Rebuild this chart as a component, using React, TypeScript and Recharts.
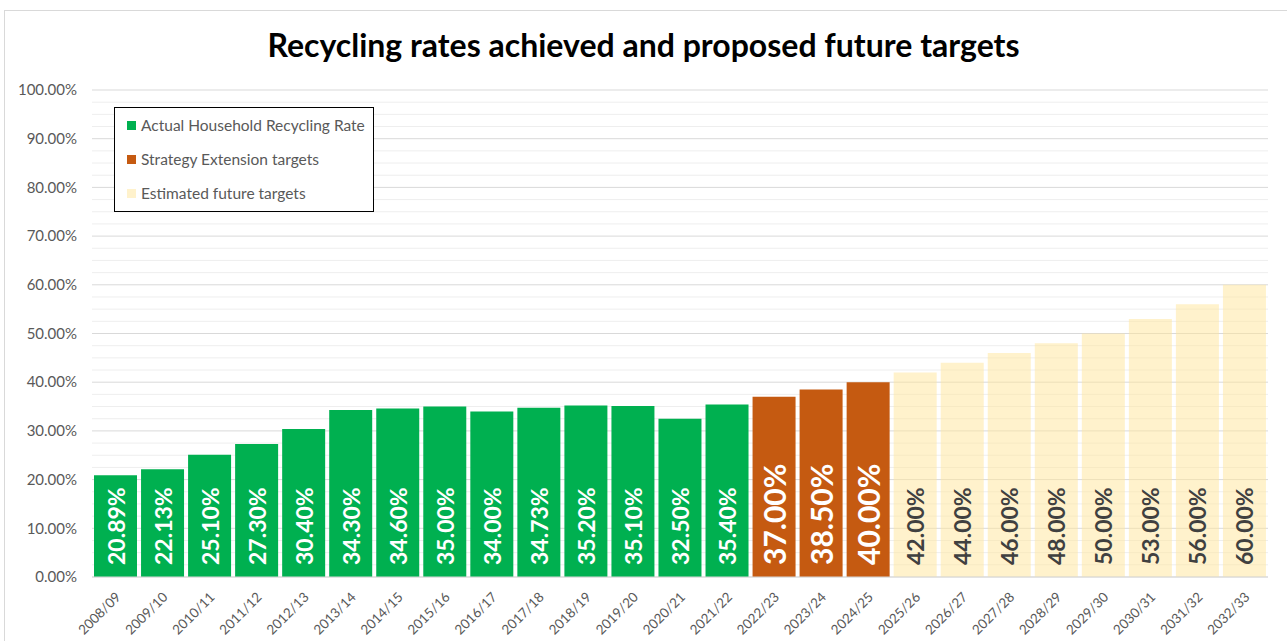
import React from 'react'
import { BarChart, Bar, XAxis, YAxis, CartesianGrid, LabelList } from 'recharts'

const years = [
  '2008/09', '2009/10', '2010/11', '2011/12', '2012/13', '2013/14', '2014/15', '2015/16',
  '2016/17', '2017/18', '2018/19', '2019/20', '2020/21', '2021/22', '2022/23', '2023/24',
  '2024/25', '2025/26', '2026/27', '2027/28', '2028/29', '2029/30', '2030/31', '2031/32', '2032/33',
]

const actualRates = [
  0.2089, 0.2213, 0.251, 0.273, 0.304, 0.343, 0.346, 0.35, 0.34, 0.3473, 0.352, 0.351, 0.325, 0.354,
  null, null, null, null, null, null, null, null, null, null, null,
]

const extensionTargets = [
  null, null, null, null, null, null, null, null, null, null, null, null, null, null,
  0.37, 0.385, 0.4, null, null, null, null, null, null, null, null,
]

const futureTargets = [
  null, null, null, null, null, null, null, null, null, null, null, null, null, null,
  null, null, null, 0.42, 0.44, 0.46, 0.48, 0.5, 0.53, 0.56, 0.6,
]

const yTicks = [
  0, 0.025, 0.05, 0.075, 0.1, 0.125, 0.15, 0.175, 0.2, 0.225, 0.25, 0.275, 0.3, 0.325, 0.35, 0.375,
  0.4, 0.425, 0.45, 0.475, 0.5, 0.525, 0.55, 0.575, 0.6, 0.625, 0.65, 0.675, 0.7, 0.725, 0.75, 0.775,
  0.8, 0.825, 0.85, 0.875, 0.9, 0.925, 0.95, 0.975, 1,
]

const series = [
  { key: 'actual', name: 'Actual Household Recycling Rate', color: '#00b050', opacity: 1, labelColor: '#ffffff', labelSize: 23 },
  { key: 'extension', name: 'Strategy Extension targets', color: '#c55a11', opacity: 1, labelColor: '#ffffff', labelSize: 30 },
  { key: 'future', name: 'Estimated future targets', color: '#ffe699', opacity: 0.5, labelColor: '#404040', labelSize: 23 },
]

const chartData = years.map((year, i) => ({
  year,
  actual: actualRates[i],
  extension: extensionTargets[i],
  future: futureTargets[i],
}))

const W = 1287
const H = 641
const TOP = 90
const BOTTOM = 64
const PLOT_H = H - TOP - BOTTOM
const FONT = 'Lato, "Noto Sans", sans-serif'

const pct = (v: number) => `${(v * 100).toFixed(2)}%`

// major line every 10%, faint minor line every 2.5%
function GridLine(props: any) {
  const { x1, x2, y1 } = props
  const step = PLOT_H / 40
  const idx = Math.round((TOP + PLOT_H - y1) / step)
  const major = idx % 4 === 0
  return <line x1={x1} x2={x2} y1={y1} y2={y1} stroke={major ? '#d9d9d9' : '#eeeeee'} strokeWidth={1} />
}

function YTick(props: any) {
  const { x, y, payload } = props
  const v = payload.value
  if (Math.round(v * 1000) % 100 !== 0) return null
  return (
    <text x={x} y={y} dy="0.35em" textAnchor="end" fill="#595959" fontSize={15} fontFamily={FONT}>
      {pct(v)}
    </text>
  )
}

function XTick(props: any) {
  const { x, y, payload } = props
  return (
    <text
      transform={`translate(${x + 6},${y + 21}) rotate(-45)`}
      textAnchor="end"
      fill="#595959"
      fontSize={13.5}
      fontFamily={FONT}
    >
      {payload.value}
    </text>
  )
}

const makeLabel = (color: string, size: number) => (props: any) => {
  const { x, y, width, height, value } = props
  if (value == null) return null
  const cx = x + width / 2
  const bottom = y + height
  return (
    <text
      transform={`translate(${cx},${bottom - 12}) rotate(-90)`}
      textAnchor="start"
      dominantBaseline="central"
      fill={color}
      fontSize={size}
      fontWeight="bold"
      fontFamily={FONT}
    >
      {pct(value)}
    </text>
  )
}

function LegendBox() {
  return (
    <div
      style={{
        position: 'absolute',
        left: 114,
        top: 107,
        border: '1.5px solid #000',
        background: '#fff',
        width: 260,
        height: 105,
        boxSizing: 'border-box',
        padding: '0 0 0 12px',
        fontFamily: FONT,
      }}
    >
      {series.map((s) => (
        <div key={s.key} style={{ display: 'flex', alignItems: 'center', height: 34 }}>
          <span style={{ display: 'inline-block', width: 9, height: 9, background: s.color, opacity: s.opacity, marginRight: 5 }} />
          <span style={{ fontSize: 15.5, color: '#595959' }}>{s.name}</span>
        </div>
      ))}
    </div>
  )
}

export default function App() {
  return (
    <div style={{ position: 'fixed', left: 0, top: 0, width: W, height: H, overflow: 'hidden', background: '#fff' }}>
      <div
        style={{
          position: 'absolute',
          left: 4,
          top: 10,
          width: W + 20,
          height: H + 20,
          border: '1px solid #d9d9d9',
        }}
      />
      <div
        style={{
          position: 'absolute',
          left: 0,
          top: 29,
          width: W,
          textAlign: 'center',
          fontFamily: FONT,
          fontWeight: 'bold',
          fontSize: 32,
          lineHeight: '32px',
          color: '#000',
        }}
      >
        Recycling rates achieved and proposed future targets
      </div>
      <div style={{ position: 'absolute', left: 0, top: 0 }}>
        <BarChart
          width={W}
          height={H}
          data={chartData}
          margin={{ top: TOP, right: 19, bottom: 0, left: 0 }}
          barCategoryGap={2}
        >
          <CartesianGrid vertical={false} horizontal={(p: any) => <GridLine key={p.key} {...p} />} />
          <XAxis
            dataKey="year"
            height={BOTTOM}
            interval={0}
            tickSize={0}
            tickMargin={0}
            axisLine={{ stroke: '#d9d9d9' }}
            tick={<XTick />}
          />
          <YAxis
            width={92}
            domain={[0, 1]}
            ticks={yTicks}
            interval={0}
            tickSize={0}
            tickMargin={15}
            axisLine={false}
            tick={<YTick />}
          />
          {series.map((s) => (
            <Bar
              key={s.key}
              dataKey={s.key}
              name={s.name}
              stackId="a"
              fill={s.color}
              fillOpacity={s.opacity}
              isAnimationActive={false}
            >
              <LabelList dataKey={s.key} content={makeLabel(s.labelColor, s.labelSize)} />
            </Bar>
          ))}
        </BarChart>
      </div>
      <LegendBox />
    </div>
  )
}
